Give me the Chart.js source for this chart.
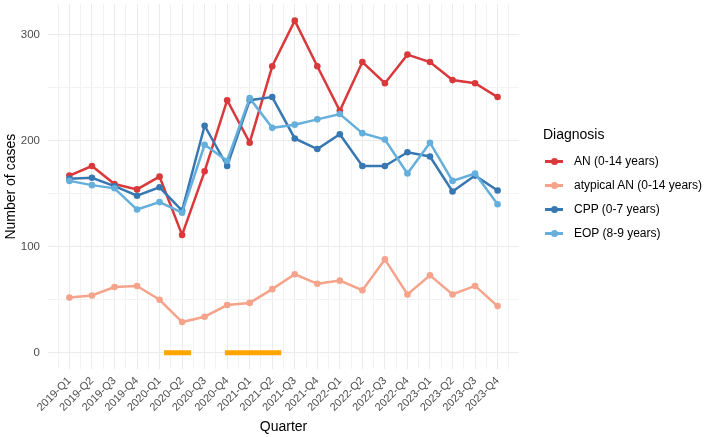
<!DOCTYPE html>
<html>
<head>
<meta charset="utf-8">
<script src="https://cdn.jsdelivr.net/npm/chart.js@4/dist/chart.umd.min.js"></script>
<style>
  html, body { margin: 0; padding: 0; background: #fff; }
  #wrap { position: relative; width: 709px; height: 437px; font-family: "Liberation Sans", Arial, sans-serif; }
  #legend { position: absolute; left: 543px; top: 124px; color: #000; }
  #legend .title { font-size: 14px; height: 20px; line-height: 20px; margin-bottom: 5px; }
  #legend .item { position: relative; height: 24px; line-height: 24px; font-size: 12px; padding-left: 31px; white-space: nowrap; }
  #legend .key { position: absolute; left: 2px; top: 11px; width: 18px; height: 2.5px; }
  #legend .dot { position: absolute; left: 6px; top: -2.5px; width: 7px; height: 7px; border-radius: 50%; }
</style>
</head>
<body>
<div id="wrap">
  <canvas id="chart" width="709" height="437"></canvas>
  <div id="legend"></div>
</div>
<script>
const quarters = [
  "2019-Q1", "2019-Q2", "2019-Q3", "2019-Q4",
  "2020-Q1", "2020-Q2", "2020-Q3", "2020-Q4",
  "2021-Q1", "2021-Q2", "2021-Q3", "2021-Q4",
  "2022-Q1", "2022-Q2", "2022-Q3", "2022-Q4",
  "2023-Q1", "2023-Q2", "2023-Q3", "2023-Q4",
];
const anCases = [167, 176, 159, 154, 166, 111, 171, 238, 198, 270, 313, 270, 228, 274, 254, 281, 274, 257, 254, 241];
const atypicalCases = [52, 54, 62, 63, 50, 29, 34, 45, 47, 60, 74, 65, 68, 59, 88, 55, 73, 55, 63, 44];
const cppCases = [164, 165, 157, 148, 156, 134, 214, 176, 238, 241, 202, 192, 206, 176, 176, 189, 185, 152, 167, 153];
const eopCases = [162, 158, 155, 135, 142, 132, 196, 181, 240, 212, 215, 220, 225, 207, 201, 169, 198, 162, 169, 140];

// lockdown periods, in quarter index units
const lockdownStart = [4.2, 6.9];
const lockdownEnd = [5.4, 9.4];

const yTicks = [0, 50, 100, 150, 200, 250, 300];

const series = [
  { label: "AN (0-14 years)", values: anCases, color: "#D9393B" },
  { label: "atypical AN (0-14 years)", values: atypicalCases, color: "#F5A38A" },
  { label: "CPP (0-7 years)", values: cppCases, color: "#3878B2" },
  { label: "EOP (8-9 years)", values: eopCases, color: "#65AFDC" },
];

const datasets = series.map((s, i) => ({
  label: s.label,
  data: s.values.map((v, j) => ({ x: j, y: v })),
  borderColor: s.color,
  backgroundColor: s.color,
  borderWidth: 2.5,
  pointRadius: 3.3,
  pointBorderWidth: 0,
  tension: 0,
  order: series.length - i,
}));

lockdownStart.forEach((start, i) => {
  datasets.push({
    label: "lockdown" + i,
    data: [{ x: start, y: 0 }, { x: lockdownEnd[i], y: 0 }],
    borderColor: "#FFA500",
    borderWidth: 5,
    borderCapStyle: "butt",
    pointRadius: 0,
    order: 10,
  });
});

const ctx = document.getElementById("chart").getContext("2d");
new Chart(ctx, {
  type: "line",
  data: { datasets: datasets },
  options: {
    responsive: false,
    animation: false,
    layout: { padding: { top: 2, right: 190, bottom: 0, left: 0 } },
    plugins: { legend: { display: false }, tooltip: { enabled: false } },
    scales: {
      x: {
        type: "linear",
        min: -0.95,
        max: 19.95,
        afterBuildTicks: (scale) => {
          const t = [];
          for (let v = -0.5; v <= 19.5; v += 0.5) t.push({ value: v });
          scale.ticks = t;
        },
        afterFit: (scale) => { scale.height = 67.6; },
        grid: {
          drawTicks: false,
          color: (c) => (Number.isInteger(c.tick.value) ? "#EBEBEB" : "#F2F2F2"),
          lineWidth: 1,
        },
        border: { display: false },
        ticks: {
          autoSkip: false,
          minRotation: 45,
          maxRotation: 45,
          padding: 5,
          color: "#4D4D4D",
          font: { family: "Liberation Sans", size: 11 },
          callback: (v) => (Number.isInteger(v) ? quarters[v] : ""),
        },
        title: {
          display: true,
          text: "Quarter",
          color: "#000",
          font: { family: "Liberation Sans", size: 14 },
          padding: { top: 0, bottom: 1 },
        },
      },
      y: {
        type: "linear",
        min: -15.65,
        max: 328.7,
        afterBuildTicks: (scale) => {
          scale.ticks = yTicks.map((v) => ({ value: v }));
        },
        afterFit: (scale) => {
          scale.width = 48;
          scale.paddingTop = 0;
          scale.paddingBottom = 0;
        },
        grid: {
          drawTicks: false,
          color: (c) => (c.tick.value % 100 === 0 ? "#EBEBEB" : "#F2F2F2"),
          lineWidth: 1,
        },
        border: { display: false },
        ticks: {
          padding: 8,
          color: "#4D4D4D",
          font: { family: "Liberation Sans", size: 11.5 },
          callback: (v) => (v % 100 === 0 ? String(v) : ""),
        },
        title: {
          display: true,
          text: "Number of cases",
          color: "#000",
          font: { family: "Liberation Sans", size: 14 },
          padding: { top: 3, bottom: 0 },
        },
      },
    },
  },
});

// legend drawn as html so it sits where the ggplot legend does
const legendEl = document.getElementById("legend");
let html = '<div class="title">Diagnosis</div>';
series.forEach((s) => {
  html += '<div class="item"><span class="key" style="background:' + s.color + '">' +
    '<span class="dot" style="background:' + s.color + '"></span></span>' + s.label + "</div>";
});
legendEl.innerHTML = html;
</script>
</body>
</html>
